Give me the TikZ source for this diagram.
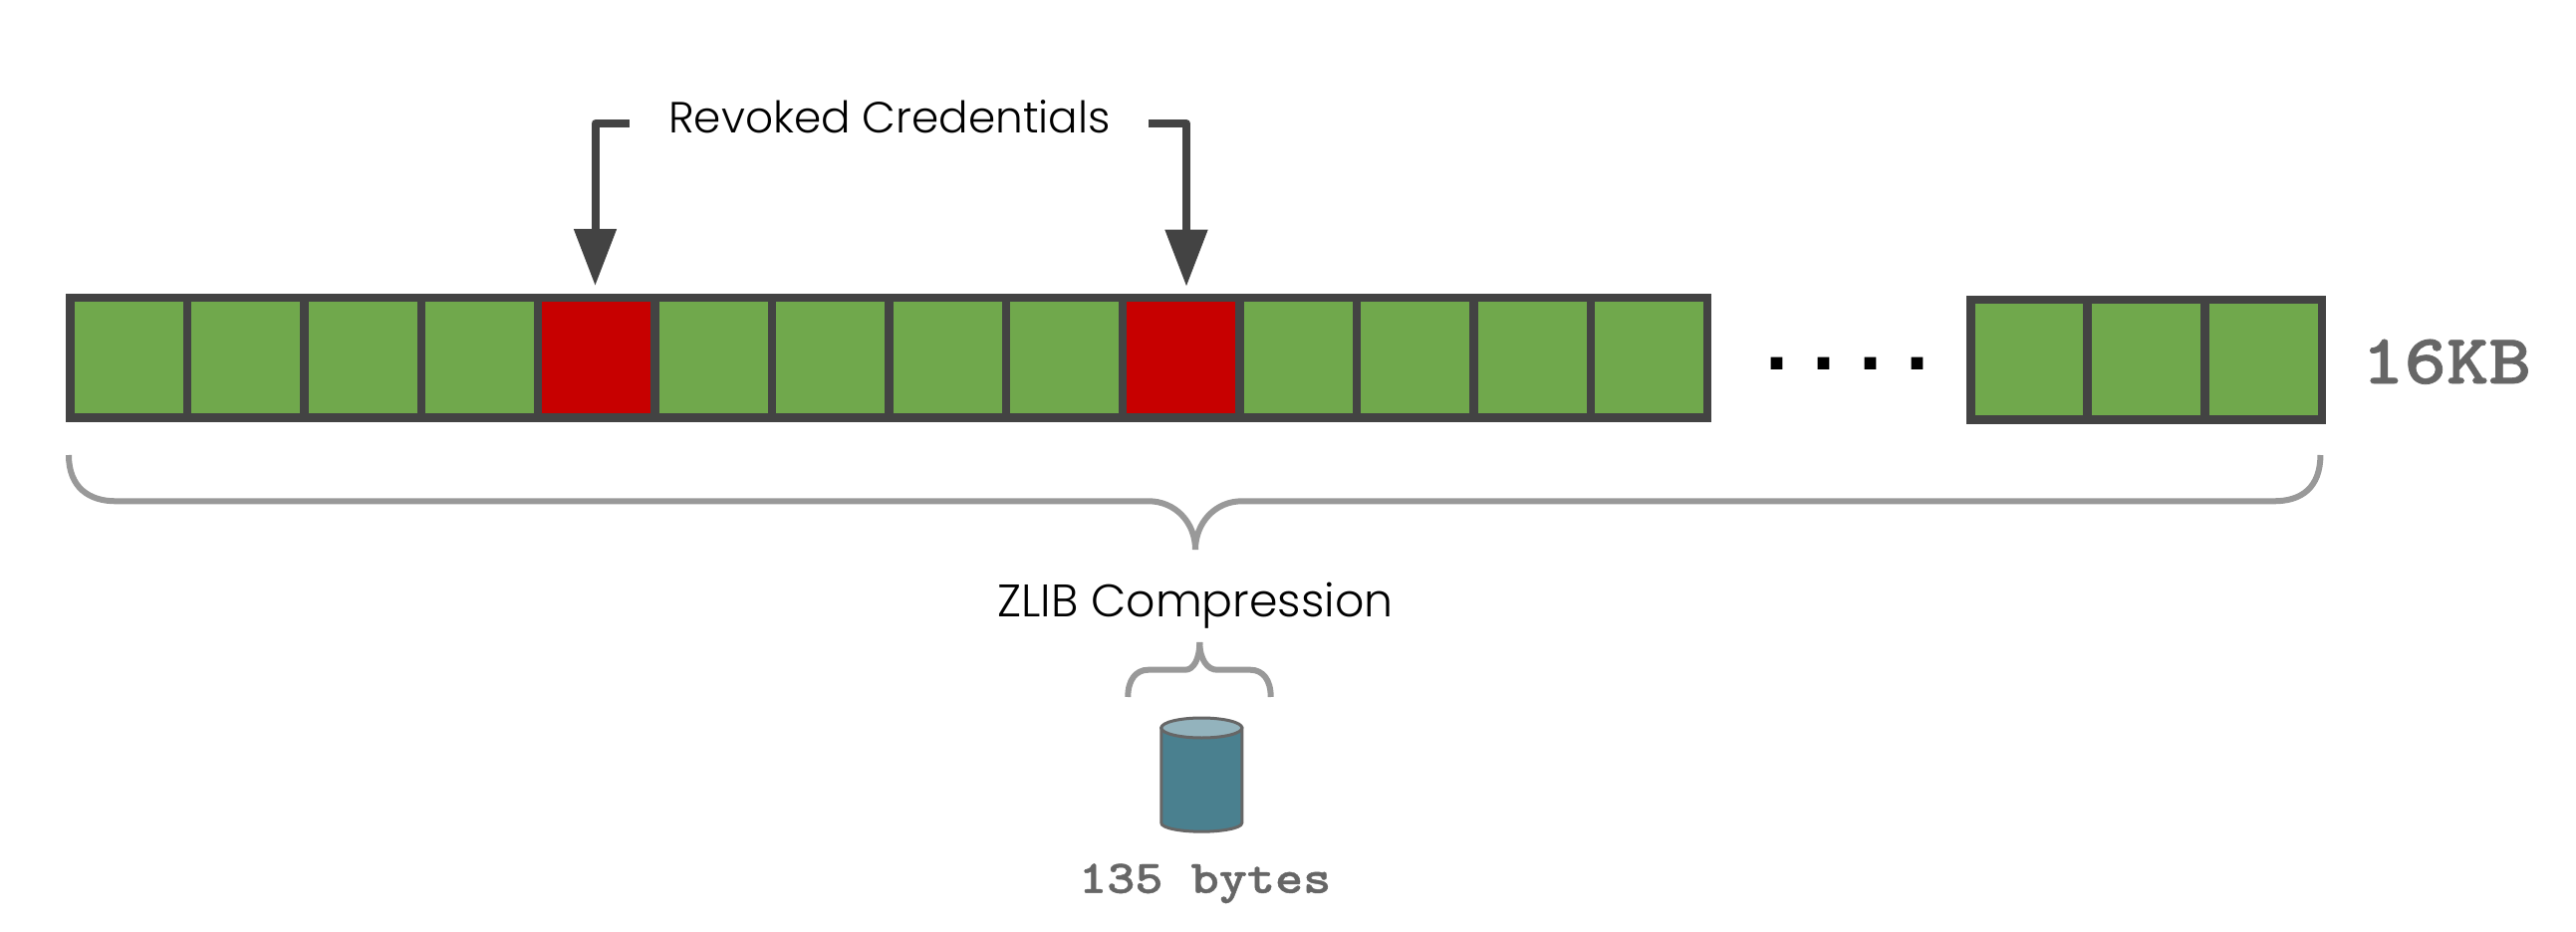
\documentclass[tikz,border=0pt]{standalone}
\usepackage{fontspec}
\usetikzlibrary{arrows.meta}
\setmainfont{Poppins Light}
\newfontfamily\codefont{Latin Modern Mono Light}[FakeStretch=1.14,BoldFeatures={FakeBold=1}]
\newfontfamily\dotfont{Liberation Sans}
\definecolor{cellgreen}{HTML}{70A84C}
\definecolor{cellred}{HTML}{C70000}
\definecolor{framegray}{HTML}{434343}
\definecolor{bracegray}{HTML}{999999}
\definecolor{codegray}{HTML}{666666}
\definecolor{dbbody}{HTML}{4A808F}
\definecolor{dbtop}{HTML}{93B3BD}
\tikzset{
  cell/.style={draw=framegray,fill=cellgreen,line width=8.5pt,outer sep=0pt,minimum width=117.4pt,minimum height=120.5pt,inner sep=0pt},
  revoked/.style={cell,fill=cellred},
  pointer/.style={draw=framegray,line width=8pt,line join=round,-{Triangle[length=57pt,width=41pt]}},
  bracket/.style={draw=bracegray,line width=6pt},
  dbline/.style={draw=codegray,line width=3pt},
  title/.style={inner sep=0pt,anchor=base,text=black},
  code/.style={inner sep=0pt,anchor=base,text=codegray}
}
\begin{document}
\begin{tikzpicture}[x=1pt,y=-1pt]
  \useasboundingbox (0,0) rectangle (2586,936);
  % Zellen
  \foreach \i in {0,...,13} {
    \node[cell] (C\i) at ({129.3+117.4*\i},359) {};
  }
  \node[revoked] (C4) at ({129.3+117.4*4},359) {};
  \node[revoked] (C9) at ({129.3+117.4*9},359) {};
  \foreach \i in {0,1,2} {
    \node[cell] (E\i) at ({2037+117.7*\i},361.2) {};
  }
  \node[title,font=\dotfont\bfseries\fontsize{83}{83}\selectfont] (dots) at (1854.5,371) {.\hspace{24pt}.\hspace{24pt}.\hspace{24pt}.};
  \node[code,font=\codefont\bfseries\fontsize{71}{71}\selectfont] (size) at (2456,385) {16KB};
  % Pfeile
  \node[title,font=\fontsize{43.8}{44}\selectfont] (revlabel) at (893,134) {Revoked Credentials};
  \coordinate (A) at (631.5,124);
  \coordinate (At) at (597.5,287);
  \coordinate (B) at (1153,124);
  \coordinate (Bt) at (1191,287.7);
  \draw[pointer] (A) -| (At);
  \draw[pointer] (B) -| (Bt);
  % Klammern
  \draw[bracket] (69,457) .. controls (69,490) and (90,503.3) .. (116,503.3) -- (1153,503.3)
    .. controls (1180,503.3) and (1200,525) .. (1200,552);
  \draw[bracket] (2329.4,457) .. controls (2329.4,490) and (2310,503.3) .. (2283,503.3) -- (1246.7,503.3)
    .. controls (1220,503.3) and (1200,525) .. (1200,552);
  \node[title,font=\fontsize{45.8}{46}\selectfont] (zlib) at (1200,619) {ZLIB Compression};
  \draw[bracket] (1132.3,700) .. controls (1132.3,683) and (1140,672.7) .. (1153,672.7) -- (1190,672.7)
    .. controls (1198,672.7) and (1204.3,662) .. (1204.3,645);
  \draw[bracket] (1275.7,700) .. controls (1275.7,683) and (1268,672.7) .. (1255,672.7) -- (1221.7,672.7)
    .. controls (1212,672.7) and (1204.3,662) .. (1204.3,645);
  % Zylinder
  \draw[dbline,fill=dbbody] (1165.8,731) -- (1165.8,826.5)
    .. controls (1165.8,832) and (1187,835.2) .. (1206.3,835.2)
    .. controls (1225,835.2) and (1246.8,832) .. (1246.8,826.5) -- (1246.8,731) -- cycle;
  \draw[dbline,fill=dbtop] (1206.3,731) ellipse [x radius=40.5,y radius=10];
  \node[code,font=\codefont\bfseries\fontsize{47}{47}\selectfont] (result) at (1209.7,896.7) {135 bytes};
\end{tikzpicture}
\end{document}
